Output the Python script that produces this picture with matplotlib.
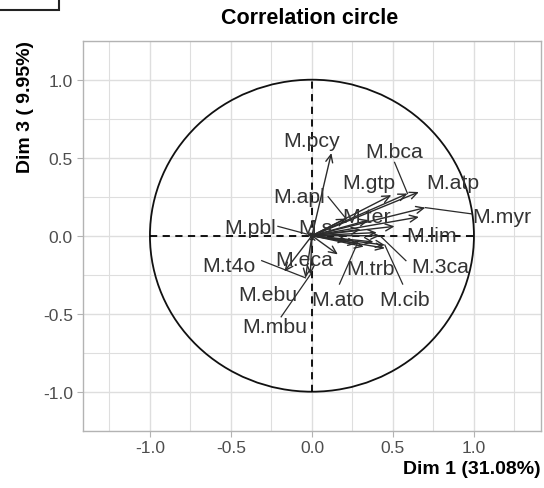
import matplotlib
matplotlib.use("Agg")
import matplotlib.pyplot as plt
from matplotlib.patches import Circle, Rectangle
import numpy as np

plt.rcParams['font.family'] = ['Liberation Sans', 'DejaVu Sans']

# Variable coordinates (Dim 1, Dim 3)
var_names = ["M.pcy", "M.bca", "M.atp", "M.gtp", "M.myr", "", "M.lim", "M.ter",
             "M.apl", "M.pbl", "M.s", "M.3ca", "M.cib", "M.ato", "M.trb", "M.eca",
             "M.t4o", "M.ebu", "M.mbu", "", "", "", "", ""]
dim1 = [0.12, 0.59, 0.66, 0.49, 0.70, 0.66, 0.51, 0.35,
        0.21, -0.03, 0.04, 0.42, 0.45, 0.28, 0.32, 0.16,
        -0.04, -0.17, -0.01, 0.30, 0.40, 0.38, 0.22, 0.45]
dim3 = [0.53, 0.27, 0.28, 0.26, 0.18, 0.12, 0.06, 0.10,
        0.11, 0.01, 0.01, 0.00, -0.06, -0.05, -0.07, -0.12,
        -0.27, -0.23, -0.25, 0.04, 0.02, -0.04, -0.03, -0.08]

# Repelled label positions (data units) and segment starts (None = no segment)
label_x = [0.00, 0.51, 0.87, 0.35, 1.17, None, 0.74, 0.34,
           -0.08, -0.38, 0.02, 0.79, 0.57, 0.16, 0.36, -0.05,
           -0.51, -0.27, -0.23, None, None, None, None, None]
label_y = [0.61, 0.54, 0.34, 0.34, 0.12, None, 0.00, 0.12,
           0.25, 0.05, 0.05, -0.20, -0.41, -0.41, -0.21, -0.15,
           -0.19, -0.38, -0.58, None, None, None, None, None]
seg_x = [None, 0.51, None, None, 0.985, None, None, None,
         0.10, -0.21, None, 0.58, 0.56, 0.17, None, None,
         -0.31, None, -0.19, None, None, None, None, None]
seg_y = [None, 0.47, None, None, 0.14, None, None, None,
         0.25, 0.06, None, -0.16, -0.31, -0.31, None, None,
         -0.16, None, -0.52, None, None, None, None, None]

x_ticks = [-1.0, -0.5, 0.0, 0.5, 1.0]
y_ticks = [-1.0, -0.5, 0.0, 0.5, 1.0]

W, H = 544, 489
fig = plt.figure(figsize=(W / 100, H / 100), dpi=100)
L, R, T, B = 82.7, 540.7, 41.7, 431.7
ax = fig.add_axes([L / W, 1 - B / H, (R - L) / W, (B - T) / H])
ax.set_xlim(-1.415, 1.412)
ax.set_ylim(-1.21, 1.20)

grid_c = '#DEDEDE'
ax.set_xticks(x_ticks)
ax.set_yticks(y_ticks)
ax.set_xticks(np.arange(-1.25, 1.3, 0.5), minor=True)
ax.set_yticks(np.arange(-1.25, 1.3, 0.5), minor=True)
ax.grid(True, which='major', color=grid_c, lw=1.0)
ax.grid(True, which='minor', color=grid_c, lw=0.8)
ax.set_axisbelow(True)
ax.tick_params(which='minor', length=0)
ax.tick_params(which='major', length=4, width=0.8, color='#B3B3B3',
               labelsize=12.5, labelcolor='#4D4D4D', pad=3)
ax.set_xticklabels([f"{v:.1f}" for v in x_ticks])
ax.set_yticklabels([f"{v:.1f}" for v in y_ticks])
for s in ax.spines.values():
    s.set_color('#B3B3B3')
    s.set_linewidth(1.0)

ax.add_patch(Circle((0, 0), 1, fill=False, color='#111111', lw=1.3, zorder=2))
ax.plot([-1, 1], [0, 0], color='black', ls=(0, (4, 3)), lw=1.3, zorder=2)
ax.plot([0, 0], [-1, 1], color='black', ls=(0, (4, 3)), lw=1.3, zorder=2)

col = '#2b2b2b'
for i in range(len(dim1)):
    ax.annotate('', xy=(dim1[i], dim3[i]), xytext=(0, 0),
                arrowprops=dict(arrowstyle='->,head_length=0.55,head_width=0.25',
                                lw=1.0, color=col, shrinkA=0, shrinkB=0),
                zorder=3)
    if label_x[i] is not None:
        if seg_x[i] is not None:
            ax.plot([seg_x[i], dim1[i]], [seg_y[i], dim3[i]], color=col, lw=0.9, zorder=3)
        ax.text(label_x[i], label_y[i], var_names[i], fontsize=15.3, color='#333333',
                ha='center', va='center', zorder=4)

fig.text(310 / W, 1 - 18 / H, "Correlation circle", fontsize=15.5, fontweight='bold',
         ha='center', va='center')
fig.text(541 / W, 1 - 470 / H, "Dim 1 (31.08%)", fontsize=14, fontweight='bold',
         ha='right', va='center')
fig.text(25 / W, 1 - 41 / H, "Dim 3 ( 9.95%)", fontsize=14, fontweight='bold',
         ha='center', va='top', rotation=90)

fig.patches.append(Rectangle((-2 / W, 1 - 11 / H), 61 / W, 14 / H, transform=fig.transFigure,
                             fill=False, edgecolor='#222222', lw=1.5, figure=fig))

fig.savefig("out.png", dpi=100)
